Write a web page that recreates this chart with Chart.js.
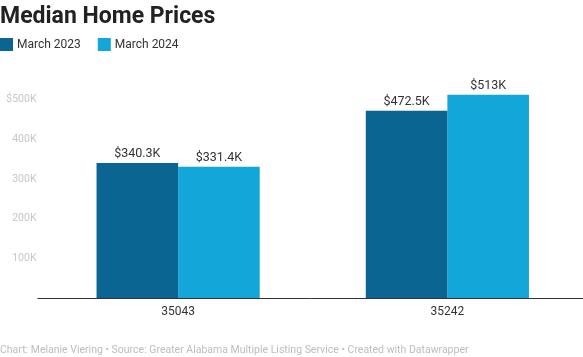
<!DOCTYPE html>
<html><head><meta charset="utf-8">
<script src="https://cdn.jsdelivr.net/npm/chart.js@4"></script>
<style>html,body{margin:0;padding:0;background:#fff}#wrap{width:583px;height:357px}</style>
</head><body><div id="wrap"><canvas id="c" width="583" height="357"></canvas></div>
<script>
const title = "Median Home Prices";
const footer = "Chart: Melanie Viering \u2022 Source: Greater Alabama Multiple Listing Service \u2022 Created with Datawrapper";
const categories = ["35043", "35242"];
const seriesNames = ["March 2023", "March 2024"];
const march2023 = [340300, 472500];
const march2024 = [331400, 513000];
const valueLabels2023 = ["$340.3K", "$472.5K"];
const valueLabels2024 = ["$331.4K", "$513K"];
const yTickValues = [100000, 200000, 300000, 400000, 500000];
const yTickLabels = ["100K", "200K", "300K", "400K", "$500K"];
const colors = ["#0b6593", "#12a6d9"];

const decor = {
  id: 'decor',
  afterDraw(chart) {
    const ctx = chart.ctx, a = chart.chartArea;
    ctx.save();
    ctx.fillStyle = '#222';
    ctx.font = 'bold 23px Roboto';
    ctx.textBaseline = 'alphabetic';
    ctx.textAlign = 'left';
    ctx.fillText(title, 0, 23);
    ctx.font = '12px Roboto';
    ctx.textBaseline = 'middle';
    let x = 0;
    seriesNames.forEach((n, i) => {
      ctx.fillStyle = colors[i];
      ctx.fillRect(x, 38, 13, 13);
      ctx.fillStyle = '#333';
      ctx.fillText(n, x + 17, 45);
      x += 17 + ctx.measureText(n).width + 17;
    });
    ctx.strokeStyle = '#333';
    ctx.lineWidth = 1;
    ctx.beginPath();
    ctx.moveTo(a.left - 6, Math.round(a.bottom) + 0.5);
    ctx.lineTo(chart.width, Math.round(a.bottom) + 0.5);
    ctx.stroke();
    ctx.font = '12.5px Roboto';
    ctx.fillStyle = '#333';
    ctx.textAlign = 'center';
    ctx.textBaseline = 'alphabetic';
    const lbls = [valueLabels2023, valueLabels2024];
    chart.data.datasets.forEach((ds, di) => {
      chart.getDatasetMeta(di).data.forEach((bar, i) => {
        ctx.fillText(lbls[di][i], bar.x, bar.y - 6);
      });
    });
    ctx.font = '10.5px Roboto';
    ctx.fillStyle = '#bdbdbd';
    ctx.textAlign = 'left';
    ctx.fillText(footer, 0, 353);
    ctx.restore();
  }
};

new Chart(document.getElementById('c'), {
  type: 'bar',
  data: {
    labels: categories,
    datasets: [
      {label: seriesNames[0], data: march2023, backgroundColor: colors[0]},
      {label: seriesNames[1], data: march2024, backgroundColor: colors[1]}
    ]
  },
  options: {
    responsive: false,
    animation: false,
    devicePixelRatio: 1,
    layout: {padding: {top: 80, right: 1, bottom: 35, left: 0}},
    plugins: {legend: {display: false}, title: {display: false}, tooltip: {enabled: false}},
    datasets: {bar: {categoryPercentage: 0.606, barPercentage: 1.0}},
    scales: {
      x: {
        grid: {display: false, drawTicks: false},
        border: {display: false},
        ticks: {color: '#333', font: {family: 'Roboto', size: 12}, padding: 7},
        afterFit(s) { s.height = 24; }
      },
      y: {
        min: 0, max: 550000,
        grid: {display: false, drawTicks: false},
        border: {display: false},
        afterBuildTicks(s) { s.ticks = yTickValues.map(v => ({value: v})); },
        ticks: {
          color: '#c6c6c6',
          font: {family: 'Roboto', size: 10.5},
          padding: 7,
          callback: (v) => yTickLabels[yTickValues.indexOf(v)]
        },
        afterFit(s) { s.width = 43.5; }
      }
    }
  },
  plugins: [decor]
});
</script></body></html>
